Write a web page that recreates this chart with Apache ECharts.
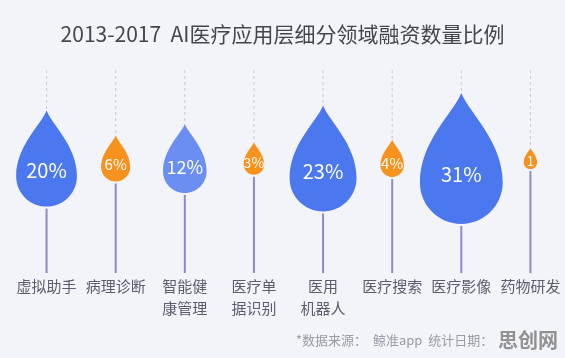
<!DOCTYPE html>
<html>
<head>
<meta charset="utf-8">
<script src="https://cdn.jsdelivr.net/npm/echarts@6/dist/echarts.min.js"></script>
<style>
  html, body { margin: 0; padding: 0; background: #f3f4f9; }
  #chart { width: 565px; height: 358px; }
</style>
</head>
<body>
<div id="chart"></div>
<script>
// data
var categories = ["虚拟助手", "病理诊断", "智能健\n康管理", "医疗单\n据识别", "医用\n机器人", "医疗搜索", "医疗影像", "药物研发"];
var shares = [20, 6, 12, 3, 23, 4, 31, 1];
var shareLabels = ["20%", "6%", "12%", "3%", "23%", "4%", "31%", "1"];

var titleText = "2013-2017  AI医疗应用层细分领域融资数量比例";
var sourceText = "*数据来源：  鲸准app  统计日期：";
var watermark = "思创网";

var FONT = "Noto Sans CJK SC";
var DROP_Y = 56.4; // drop centre, in hidden y axis units (0..100)
// teardrop in a 100 x 158 box, tip at top
var DROP_PATH = "M50,0 C58,22 100,58 100,108 C100,135.6 77.6,158 50,158 C22.4,158 0,135.6 0,108 C0,58 42,22 50,0 Z";

function dropWidth(v) {
  return 6 + 6 * Math.sqrt(v) + 1.4 * v;
}
function dropColor(v) {
  if (v < 10) return "#f7921e";
  if (v < 15) return "#6a8ef1";
  return "#4b78ee";
}
function labelSize(v) {
  if (v >= 20) return 20;
  if (v >= 10) return 18;
  if (v >= 4) return 15;
  if (v >= 3) return 14;
  return 13;
}

var seriesData = shares.map(function (v, i) { return [i, v]; });

var chart = echarts.init(document.getElementById("chart"));

var option = {
  backgroundColor: "#f3f4f9",
  animation: false,
  title: {
    text: titleText,
    left: "center",
    top: 19,
    textStyle: { fontSize: 21, fontWeight: "normal", color: "#45454f", fontFamily: FONT }
  },
  grid: { left: 12, right: 0, top: 70, bottom: 85 },
  xAxis: {
    type: "category",
    data: categories,
    boundaryGap: true,
    axisLine: { show: false },
    axisTick: { show: false },
    axisLabel: {
      interval: 0,
      margin: 2,
      fontSize: 15,
      lineHeight: 22,
      color: "#5b5d6e",
      fontFamily: FONT
    }
  },
  yAxis: { type: "value", min: 0, max: 100, show: false },
  series: [
    {
      type: "custom",
      data: seriesData,
      renderItem: function (params, api) {
        var i = api.value(0);
        var v = api.value(1);
        var top = api.coord([i, 100]);
        var bottom = api.coord([i, 0]);
        var cx = top[0];
        var cy = api.coord([i, DROP_Y])[1];
        var w = dropWidth(v);
        var h = w * 1.58;
        var y0 = cy - h / 2;
        var y1 = cy + h / 2;
        return {
          type: "group",
          children: [
            {
              type: "line",
              shape: { x1: cx, y1: top[1], x2: cx, y2: y0 },
              style: { stroke: "#c9cbd8", lineWidth: 1, lineDash: [3, 3] }
            },
            {
              type: "line",
              shape: { x1: cx, y1: y1 + 2, x2: cx, y2: bottom[1] },
              style: { stroke: "#8c89cc", lineWidth: 2 }
            },
            {
              type: "path",
              shape: { pathData: DROP_PATH, x: cx - w / 2, y: y0, width: w, height: h, layout: "cover" },
              style: { fill: dropColor(v) }
            },
            {
              type: "text",
              x: cx,
              y: y0 + h * 0.62,
              style: {
                text: shareLabels[params.dataIndex],
                fill: "#ffffff",
                fontSize: labelSize(v),
                fontFamily: FONT,
                align: "center",
                verticalAlign: "middle"
              }
            }
          ]
        };
      }
    }
  ],
  graphic: [
    {
      type: "text",
      left: 296,
      top: 334,
      style: { text: sourceText, fill: "#9a9aa8", fontSize: 13, fontFamily: FONT }
    },
    {
      type: "text",
      left: 498,
      top: 330,
      style: { text: watermark, fill: "rgba(128,128,128,0.85)", fontSize: 20, fontWeight: "bold", fontFamily: FONT }
    }
  ]
};

chart.setOption(option);
</script>
</body>
</html>
